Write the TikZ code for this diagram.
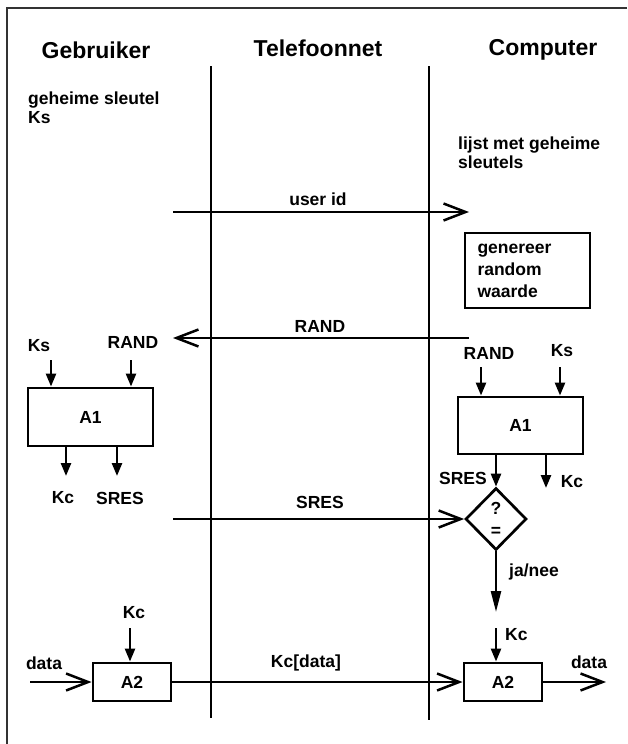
\documentclass[tikz,border=0pt]{standalone}
\usepackage{fontspec}
\setmainfont{Liberation Sans}
\usetikzlibrary{arrows.meta,shapes.geometric}
\begin{document}
\begin{tikzpicture}[x=1pt,y=-1pt,
  lbl/.style={font=\bfseries\fontsize{17.5}{19.5}\selectfont, inner sep=0pt},
  head/.style={font=\bfseries\fontsize{23}{26}\selectfont, inner sep=0pt},
  lane/.style={line width=2.7pt},
  frame/.style={line width=1.4pt, black!80},
  box/.style={draw, line width=2.9pt, inner sep=0pt, font=\bfseries\fontsize{17.5}{22}\selectfont},
  msg/.style={line width=2.5pt, -{Straight Barb[length=22pt,width=17pt]}},
  sarr/.style={line width=2.5pt, -{Triangle[length=13pt,width=10pt]}},
  larr/.style={line width=2.5pt, -{Triangle[length=21pt,width=10pt]}}
]
\useasboundingbox (0,0) rectangle (627,744);
\fill[white] (0,0) rectangle (627,744);
% frame
\coordinate (fTL) at (7,8); \coordinate (fTR) at (627,8); \coordinate (fBL) at (7,744);
\draw[frame] (fTR) -- (fTL) -- (fBL);
% headings
\node[head] (hG) at (96,50) {Gebruiker};
\node[head] (hT) at (318,48) {Telefoonnet};
\node[head] (hC) at (543,50) {Computer};
% lanes
\coordinate (l1t) at (211,66); \coordinate (l1b) at (211,718);
\coordinate (l2t) at (429,66); \coordinate (l2b) at (429,720);
\draw[lane] (l1t) -- (l1b);
\draw[lane] (l2t) -- (l2b);
% texts
\node[lbl, anchor=west, align=left] (ks0) at (28,107.5) {geheime sleutel\\Ks};
\node[lbl, anchor=west, align=left] (lijst) at (458,152.5) {lijst met geheime\\sleutels};
% user id
\coordinate (uidS) at (173,212); \coordinate (uidE) at (469,212);
\draw[msg] (uidS) -- (uidE);
\node[lbl] (uid) at (318,199) {user id};
% generate box
\node[box, minimum width=125, minimum height=75, text width=100, align=left] (gen) at (527.5,270.5) {genereer\\random\\waarde};
% RAND
\coordinate (rS) at (469,338); \coordinate (rE) at (173,338);
\draw[msg] (rS) -- (rE);
\node[lbl] (rl) at (320,326) {RAND};
% left A1
\node[box, minimum width=125, minimum height=58] (a1L) at (90.5,417) {A1};
\node[lbl] (ksL) at (39,346) {Ks};
\coordinate (ksLa) at (51,360);
\draw[sarr] (ksLa) -- (a1L.north -| ksLa);
\node[lbl] (randL) at (133,342) {RAND};
\coordinate (randLa) at (131,360);
\draw[sarr] (randLa) -- (a1L.north -| randLa);
\coordinate (kcLa) at (66,476);
\draw[sarr] (a1L.south -| kcLa) -- (kcLa);
\node[lbl] (kcL) at (63,498) {Kc};
\coordinate (sresLa) at (117,476);
\draw[sarr] (a1L.south -| sresLa) -- (sresLa);
\node[lbl] (sresL) at (120,498) {SRES};
% right A1
\node[box, minimum width=125, minimum height=57] (a1R) at (520.5,425.5) {A1};
\node[lbl] (randR) at (489,353) {RAND};
\coordinate (randRa) at (481,367);
\draw[sarr] (randRa) -- (a1R.north -| randRa);
\node[lbl] (ksR) at (562,351) {Ks};
\coordinate (ksRa) at (560,367);
\draw[sarr] (ksRa) -- (a1R.north -| ksRa);
\coordinate (kcRa) at (546,488);
\draw[sarr] (a1R.south -| kcRa) -- (kcRa);
\node[lbl] (kcR) at (572,482) {Kc};
% diamond
\node[draw, diamond, line width=2.7pt, minimum width=61, minimum height=62, inner sep=0pt, align=center, font=\bfseries\fontsize{17.5}{22}\selectfont] (dia) at (496,519) {?\\=};
\draw[sarr] (a1R.south -| dia.north) -- (dia.north);
\node[lbl, anchor=east] (sresR) at (487,478) {SRES};
% SRES message
\coordinate (sS) at (173,519);
\draw[msg] (sS) -- (dia.west);
\node[lbl] (sl) at (320,502) {SRES};
% ja/nee
\coordinate (jnE) at (496,612);
\draw[larr] (dia.south) -- (jnE);
\node[lbl] (jn) at (534,572) {ja/nee};
% right A2
\node[box, minimum width=78, minimum height=38] (a2R) at (503,682) {A2};
\coordinate (kcRb) at (496,628);
\draw[sarr] (kcRb) -- (a2R.north -| kcRb);
\node[lbl, anchor=west] (kcR2) at (505,635) {Kc};
\coordinate (dataR) at (606,682);
\draw[msg] (a2R.east) -- (dataR);
\node[lbl] (dataRl) at (589,662) {data};
% left A2
\node[box, minimum width=78, minimum height=38] (a2L) at (132,682) {A2};
\coordinate (kcLb) at (130,628);
\draw[sarr] (kcLb) -- (a2L.north -| kcLb);
\node[lbl] (kcL2) at (134,613) {Kc};
\coordinate (dataL) at (30,682);
\draw[msg] (dataL) -- (a2L.west);
\node[lbl] (dataLl) at (44,663) {data};
% Kc[data]
\draw[msg] (a2L.east) -- (a2R.west);
\node[lbl] (kcd) at (306,663) {Kc[data]};
\end{tikzpicture}
\end{document}
